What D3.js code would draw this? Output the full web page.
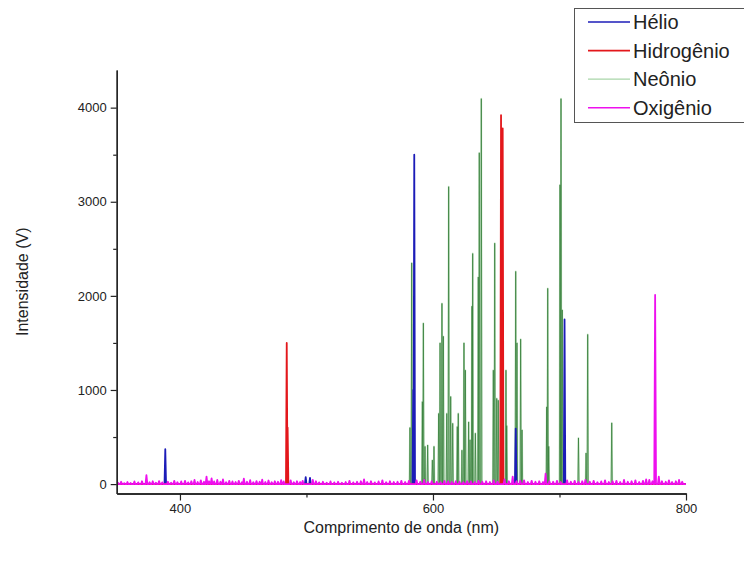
<!DOCTYPE html>
<html>
<head>
<meta charset="utf-8">
<script src="https://cdn.jsdelivr.net/npm/d3@7"></script>
<style>
  html, body { margin: 0; padding: 0; background: #fff; }
  svg { display: block; font-family: Arial, "Liberation Sans", sans-serif; }
</style>
</head>
<body>
<svg id="chart" width="744" height="565"></svg>
<script>
// Emission lines of each gas: [wavelength (nm), intensity (V)]
const helio = [
  [388.4, 370], [499.4, 75], [502.8, 65], [584.4, 1000], [585.2, 3500],
  [665.4, 590], [704.0, 1750]
];
const hidrogenio = [
  [484.4, 1500], [485.1, 600], [653.8, 3920], [655.1, 3780]
];
const neonio = [
  [581.8, 600], [583.2, 2350], [591.6, 875], [592.4, 1710], [593.7, 400],
  [595.8, 415], [599.5, 255], [600.8, 400], [604.5, 750], [605.6, 1500],
  [607.1, 1920], [608.2, 1570], [610.9, 750], [612.4, 3160], [614.0, 930],
  [615.6, 645], [619.2, 610], [620.0, 750], [622.9, 360], [624.5, 1500],
  [625.6, 1210], [628.2, 660], [629.3, 470], [630.8, 1890], [631.4, 2450],
  [633.5, 540], [635.8, 2200], [636.6, 3520], [638.2, 4095], [647.7, 1210],
  [648.8, 2560], [650.4, 910], [651.6, 890], [657.7, 1210], [658.3, 620],
  [665.4, 2260], [666.4, 1500], [669.3, 1540], [670.4, 575], [689.9, 820],
  [690.7, 2080], [691.5, 400], [700.4, 3180], [701.2, 4095], [702.2, 1850],
  [715.0, 490], [721.0, 330], [722.3, 1590], [741.3, 650]
];
const oxigenio = [
  [351, 15], [353.5, 25], [356, 10], [358.5, 22], [361, 12], [364, 28], [367, 18],
  [370, 30], [373.5, 95], [376, 20], [378.5, 30], [381, 15], [383.5, 32], [386, 18],
  [390.5, 25], [393, 15], [395.5, 35], [398, 20], [401, 28], [404, 35], [406.5, 18],
  [409, 30], [411.5, 45], [414, 22], [416.5, 40], [419, 25], [421, 80], [423, 30],
  [425, 60], [427, 28], [429.5, 45], [432, 25], [434, 50], [436.5, 20], [439, 35],
  [441.5, 28], [444, 22], [446.5, 35], [449, 20], [450.5, 58], [453, 25], [455.5, 42],
  [458, 20], [460.5, 32], [463, 25], [465, 48], [467.5, 22], [470, 38], [472.5, 20],
  [475, 30], [477.5, 25], [480, 42], [482, 28], [487.5, 40], [490, 20], [492.5, 30],
  [495, 22], [497, 35], [505, 45], [507.5, 30], [510, 18], [513, 25], [516, 15],
  [519, 28], [522, 18], [525, 25], [528, 15], [531, 22], [534, 35], [537, 18],
  [540, 25], [543, 30], [545.5, 50], [548, 22], [551, 30], [554, 18], [557, 28],
  [560, 40], [563, 20], [566, 30], [569, 22], [572, 25], [575, 35], [578, 22],
  [581, 35], [587, 40], [590, 25], [593, 45], [596, 22], [599, 30], [603, 25],
  [606, 20], [609, 35], [612, 28], [615, 22], [618, 30], [621, 25], [624, 20],
  [627, 30], [630, 28], [633, 22], [636, 35], [639, 25], [642, 30], [645, 22],
  [648, 40], [651, 25], [656.5, 50], [660, 30], [663, 80], [666, 30], [669, 35],
  [672, 40], [675, 22], [678, 35], [681, 25], [684, 30], [687, 22], [689, 110],
  [692, 30], [695, 25], [698, 35], [701, 22], [706, 40], [709, 25], [712, 35],
  [715, 22], [718, 30], [720.5, 45], [724, 25], [727, 35], [730, 20], [733, 28],
  [736, 40], [739, 22], [742, 30], [745, 35], [748, 22], [751, 45], [754, 25],
  [757, 30], [760, 40], [763, 22], [766, 35], [768.5, 50], [771, 45], [773.5, 30],
  [775.6, 2010], [778.5, 80], [781, 30], [784, 25], [786.5, 40], [789, 22],
  [792, 30], [794.5, 45], [797, 25]
];

const series = [
  { name: "Hélio", data: helio, color: "#1c1cb8" },
  { name: "Hidrogênio", data: hidrogenio, color: "#e3171b" },
  { name: "Neônio", data: neonio, color: "#2f7a33", halo: "#cbe8cb" },
  { name: "Oxigênio", data: oxigenio, color: "#ee10ee" }
];

const xTicks = [400, 600, 800];
const xMinor = [500, 700];
const yTicks = [0, 1000, 2000, 3000, 4000];
const yMinor = [500, 1500, 2500, 3500];

const svg = d3.select("#chart");
const plot = { left: 116.7, right: 686, top: 70, bottom: 493.5 };

const x = d3.scaleLinear().domain([350, 800]).range([plot.left, plot.right]);
const y = d3.scaleLinear().domain([-100, 4400]).range([plot.bottom, plot.top]);

svg.append("defs").append("clipPath").attr("id", "plotClip")
  .append("rect")
  .attr("x", plot.left + 1).attr("y", plot.top - 30)
  .attr("width", plot.right - plot.left - 1).attr("height", plot.bottom - plot.top + 29);

// Each line is drawn as a narrow spike rising from the zero baseline
function spikes(peaks, halfWidth) {
  const pts = [[350, 0]];
  peaks.slice().sort((a, b) => a[0] - b[0]).forEach(([nm, v]) => {
    pts.push([nm - halfWidth, 0], [nm, v], [nm + halfWidth, 0]);
  });
  pts.push([800, 0]);
  return pts;
}

const line = d3.line().x(d => x(d[0])).y(d => y(d[1]));
const g = svg.append("g").attr("clip-path", "url(#plotClip)");

const drawOrder = [
  { s: series[2], hw: 0.45, w: 0.7 },
  { s: series[0], hw: 0.6, w: 1.8 },
  { s: series[1], hw: 0.6, w: 1.8 },
  { s: series[3], hw: 0.7, w: 1.8 }
];
drawOrder.forEach(({ s, hw, w }) => {
  const d = line(spikes(s.data, hw));
  if (s.halo) {
    // soft pale edge around the thin neon lines
    g.append("path").attr("d", d).attr("fill", "none")
      .attr("stroke", s.halo).attr("stroke-width", 1.8).attr("stroke-linejoin", "round");
  }
  g.append("path")
    .attr("d", d)
    .attr("fill", "none")
    .attr("stroke", s.color)
    .attr("stroke-width", w)
    .attr("stroke-linejoin", "round");
});

// Axes
function styleAxis(sel) {
  sel.select(".domain").attr("stroke", "#222").attr("stroke-width", 1.3);
  sel.selectAll(".tick line").attr("stroke", "#222").attr("stroke-width", 1.2);
  sel.selectAll(".tick text").attr("fill", "#222").style("font-size", "13px")
    .style("font-family", "Arial, 'Liberation Sans', sans-serif");
}

svg.append("g").attr("transform", `translate(0,${plot.bottom})`)
  .call(d3.axisBottom(x).tickValues(xMinor).tickSize(4).tickSizeOuter(0).tickFormat(""))
  .call(styleAxis);
svg.append("g").attr("transform", `translate(0,${plot.bottom})`)
  .call(d3.axisBottom(x).tickValues(xTicks).tickSize(7).tickPadding(3).tickSizeOuter(0).tickFormat(d3.format("d")))
  .call(styleAxis);

svg.append("g").attr("transform", `translate(${plot.left},0)`)
  .call(d3.axisLeft(y).tickValues(yMinor).tickSize(3.5).tickSizeOuter(0).tickFormat(""))
  .call(styleAxis);
svg.append("g").attr("transform", `translate(${plot.left},0)`)
  .call(d3.axisLeft(y).tickValues(yTicks).tickSize(6).tickPadding(4).tickSizeOuter(0).tickFormat(d3.format("d")))
  .call(styleAxis);

// Axis titles
svg.append("text")
  .attr("x", (plot.left + plot.right) / 2).attr("y", 533)
  .attr("text-anchor", "middle").attr("fill", "#222")
  .style("font-size", "16px")
  .text("Comprimento de onda (nm)");

svg.append("text")
  .attr("transform", `translate(28,${(plot.top + plot.bottom) / 2}) rotate(-90)`)
  .attr("text-anchor", "middle").attr("fill", "#222")
  .style("font-size", "16px")
  .text("Intensidade (V)");

// Legend
const legend = svg.append("g");
legend.append("rect")
  .attr("x", 574.5).attr("y", 8.5).attr("width", 200).attr("height", 114)
  .attr("fill", "#fff").attr("stroke", "#555").attr("stroke-width", 1);
series.forEach((s, i) => {
  const ly = 22 + i * 28.6;
  legend.append("line")
    .attr("x1", 588).attr("x2", 630).attr("y1", ly).attr("y2", ly)
    .attr("stroke", s.halo ? "#a9d6a9" : s.color).attr("stroke-width", s.halo ? 1.2 : 1.6);
  legend.append("text")
    .attr("x", 633).attr("y", ly).attr("dy", "0.35em")
    .attr("fill", "#222").style("font-size", "20px")
    .text(s.name);
});
</script>
</body>
</html>
